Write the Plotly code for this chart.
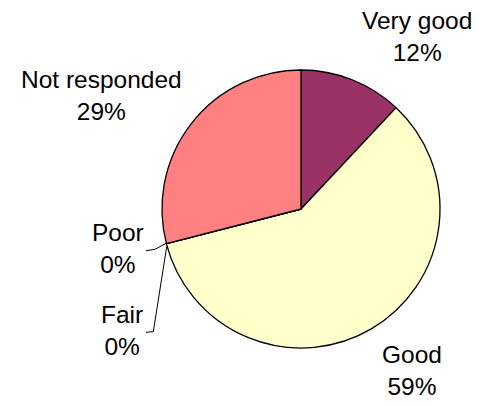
import plotly.graph_objects as go

labels = ["Very good", "Good", "Fair", "Poor", "Not responded"]
values = [12, 59, 0, 0, 29]
colors = ["#993366", "#FFFFCC", "#CCFFFF", "#660066", "#FF8080"]

W, H = 484, 406
total = sum(values)
pct = [f"{round(v / total * 100)}%" for v in values]

fig = go.Figure(go.Pie(
    labels=labels, values=values, sort=False, direction="clockwise", rotation=0,
    marker=dict(colors=colors, line=dict(color="black", width=1.3)),
    textinfo="none", hoverinfo="skip", showlegend=False,
    domain=dict(x=[162 / W, 440 / W], y=[1 - 348 / H, 1 - 70 / H]),
))

# label centres (pixels)
pos = {
    "Very good": (417, 37),
    "Good": (412, 370),
    "Fair": (122, 330),
    "Poor": (118, 248),
    "Not responded": (101, 95.5),
}
for lab, p in zip(labels, pct):
    x, y = pos[lab]
    fig.add_annotation(
        x=x / W, y=1 - y / H, xref="paper", yref="paper",
        text=f"{lab}<br>{p}", showarrow=False, xanchor="center", yanchor="middle",
        font=dict(family="Liberation Sans, Arial, sans-serif", size=24.5, color="black"),
    )

def path(pts):
    return "M " + " L ".join(f"{px / W},{1 - py / H}" for px, py in pts)

for pts in ([(167.3, 242.7), (155, 249.3), (146, 250.7)],
            [(166.7, 246.7), (153.3, 331.7), (146, 332.3)]):
    fig.add_shape(type="path", xref="paper", yref="paper", path=path(pts),
                  line=dict(color="black", width=1))

fig.update_layout(width=W, height=H, margin=dict(l=0, r=0, t=0, b=0),
                  paper_bgcolor="white", plot_bgcolor="white")
fig.write_html("out.html", config={"displayModeBar": False},
               post_script="document.body.style.margin='0';")
